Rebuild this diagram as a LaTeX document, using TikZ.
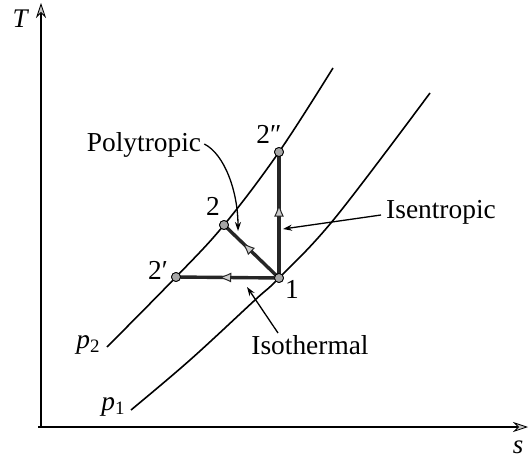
\documentclass[tikz,border=0pt]{standalone}
\usepackage{fontspec}
\setmainfont{Liberation Serif}
\usetikzlibrary{arrows.meta,decorations.markings}
\begin{document}
\begin{tikzpicture}[x=1bp,y=-1bp,
  lbl/.style={font=\fontsize{27.5}{27.5}\selectfont, inner sep=0pt},
  dot/.style={circle,draw=black,line width=0.8bp,fill=gray!70,minimum size=9bp,inner sep=0pt},
  axis/.style={line width=2.4bp,-{Stealth[length=15bp,width=10bp,line width=0.8bp,fill=gray!45]}},
  curve/.style={line width=1.6bp},
  proc/.style={line width=3.4bp,draw=black!85,postaction={decorate},
    decoration={markings,mark=at position #1 with {\arrow{Latex[length=13bp,width=10bp,line width=1bp,fill=gray!40]}}}},
  note/.style={line width=1.3bp,-{Stealth[length=9bp,width=6bp]}}
]
\useasboundingbox (0,0) rectangle (529,461);
% axes
\coordinate (O) at (41,427);
\coordinate (Ttip) at (41,3);
\coordinate (Hstart) at (38,427);
\coordinate (stip) at (528,427);
\draw[axis] (O) -- (Ttip);
\draw[axis] (Hstart) -- (stip);
\node[lbl,font=\fontsize{27}{27}\selectfont\itshape] (T) at (20,19) {T};
\node[lbl,font=\fontsize{27}{27}\selectfont\itshape] (s) at (518,447) {s};
% isobars
\draw[curve] plot[smooth,tension=0.6] coordinates {(107,347) (176,277) (224,225) (279,152) (333,68)};
\draw[curve] plot[smooth,tension=0.6] coordinates {(131,410) (190,360) (255,300) (279,278) (335,218) (430,93)};
\node[lbl] (p2) at (88,345) {\textit{p}\raisebox{-0.35ex}{\fontsize{19}{19}\selectfont 2}};
\node[lbl] (p1) at (113,407) {\textit{p}\raisebox{-0.35ex}{\fontsize{19}{19}\selectfont 1}};
% state points
\node[dot] (n1) at (279,278) {};
\node[dot] (n2) at (224,225) {};
\node[dot] (n2p) at (176,277) {};
\node[dot] (n2pp) at (279,152) {};
% processes
\draw[proc=0.59] (n1.center) -- (n2pp.center);
\draw[proc=0.59] (n1.center) -- (n2p.center);
\draw[proc=0.67] (n1.center) -- (n2.center);
\node[dot] at (n1) {};
\node[dot] at (n2) {};
\node[dot] at (n2p) {};
\node[dot] at (n2pp) {};
% point labels
\node[lbl] (l1) at (292,289) {1};
\node[lbl] (l2) at (213,206) {2};
\node[lbl] (l2p) at (158,270) {2′};
\node[lbl] (l2pp) at (269,134) {2″};
% process labels
\node[lbl] (poly) at (144,145) {Polytropic};
\node[lbl] (isen) at (441,212) {Isentropic};
\node[lbl] (isoth) at (310,345) {Isothermal};
\coordinate (polyend) at (238,231);
\coordinate (isenend) at (283,229);
\coordinate (isothstart) at (278,333);
\coordinate (isothend) at (247,287);
\draw[note] ([xshift=3bp,yshift=1bp]poly.east) .. controls +(20,10) and +(0,-40) .. (polyend);
\draw[note] ([xshift=-5bp,yshift=-3bp]isen.west) -- (isenend);
\draw[note] (isothstart) -- (isothend);
\end{tikzpicture}
\end{document}
